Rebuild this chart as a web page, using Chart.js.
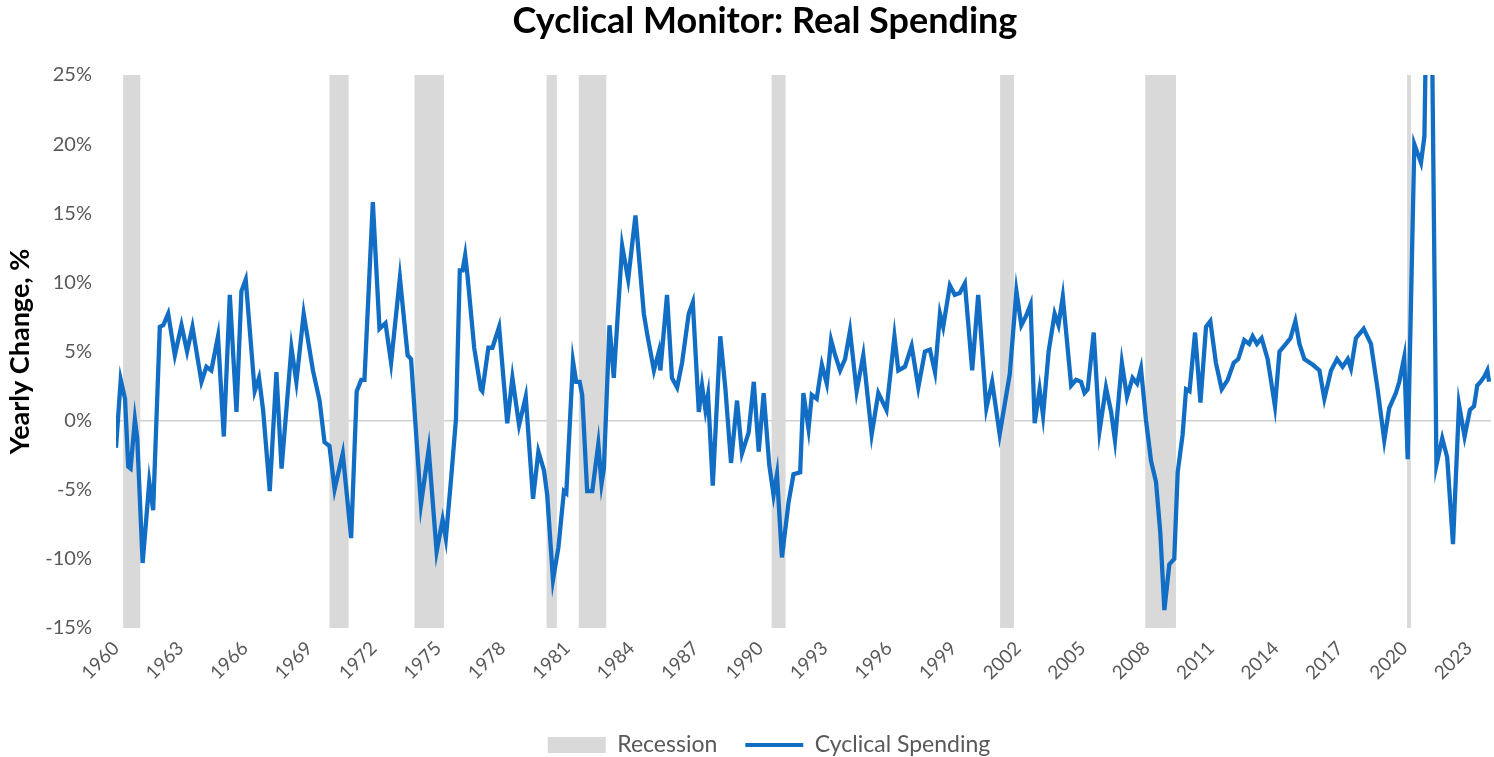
<!DOCTYPE html>
<html><head><meta charset="utf-8">
<script src="https://cdn.jsdelivr.net/npm/chart.js@4.4.1/dist/chart.umd.min.js"></script>
<style>html,body{margin:0;padding:0;background:#fff;}</style>
</head><body>
<canvas id="c" width="1494" height="757"></canvas>
<script>
const TITLE = 'Cyclical Monitor: Real Spending';
const Y_TITLE = 'Yearly Change, %';
const SERIES_LABEL = 'Cyclical Spending';
const RECESSION_LABEL = 'Recession';
const X_TICKS = [1960,1963,1966,1969,1972,1975,1978,1981,1984,1987,1990,1993,1996,1999,2002,2005,2008,2011,2014,2017,2020,2023];
const Y_TICKS = [-15,-10,-5,0,5,10,15,20,25];
const REC_START = [1960.33,1969.94,1973.9,1980.05,1981.55,1990.53,2001.17,2007.93,2020.12];
const REC_END   = [1961.13,1970.83,1975.27,1980.53,1982.83,1991.18,2001.82,2009.36,2020.3];

const DATES = [
1960.00,1960.22,1960.42,1960.57,1960.68,1960.88,1960.99,1961.24,1961.55,1961.73,
1962.04,1962.20,1962.43,1962.74,1963.05,1963.31,1963.56,1963.98,1964.21,1964.44,
1964.75,1965.02,1965.30,1965.61,1965.84,1966.04,1966.46,1966.66,1966.85,1967.16,
1967.47,1967.71,1968.17,1968.40,1968.74,1969.17,1969.48,1969.71,1969.94,1970.18,
1970.56,1970.95,1971.21,1971.42,1971.57,1971.96,1972.27,1972.55,1972.81,1973.22,
1973.58,1973.74,1974.20,1974.56,1974.93,1975.21,1975.36,1975.60,1975.83,1976.01,
1976.14,1976.26,1976.37,1976.68,1976.99,1977.06,1977.34,1977.53,1977.84,1978.22,
1978.46,1978.77,1979.08,1979.42,1979.67,1979.93,1980.08,1980.35,1980.60,1980.86,
1980.97,1981.28,1981.43,1981.59,1981.71,1981.94,1982.18,1982.46,1982.61,1982.72,
1982.98,1983.18,1983.57,1983.85,1984.19,1984.58,1984.74,1985.05,1985.28,1985.35,
1985.66,1985.89,1986.13,1986.36,1986.67,1986.86,1987.14,1987.29,1987.45,1987.57,
1987.79,1988.14,1988.38,1988.64,1988.92,1989.15,1989.46,1989.70,1989.93,1990.16,
1990.42,1990.62,1990.78,1991.01,1991.32,1991.55,1991.86,1992.01,1992.25,1992.40,
1992.63,1992.87,1993.10,1993.30,1993.49,1993.72,1993.95,1994.18,1994.49,1994.80,
1995.19,1995.50,1995.88,1996.25,1996.43,1996.74,1997.05,1997.36,1997.67,1997.90,
1998.14,1998.37,1998.52,1998.83,1999.06,1999.29,1999.53,1999.87,2000.15,2000.53,
2000.80,2001.15,2001.62,2001.93,2002.16,2002.39,2002.59,2002.78,2003.01,2003.17,
2003.43,2003.71,2003.89,2004.09,2004.48,2004.71,2004.94,2005.10,2005.25,2005.53,
2005.80,2006.10,2006.34,2006.52,2006.84,2007.08,2007.34,2007.55,2007.73,2007.96,
2008.20,2008.43,2008.63,2008.82,2009.05,2009.28,2009.44,2009.67,2009.83,2009.99,
2010.25,2010.50,2010.76,2010.96,2011.22,2011.49,2011.77,2012.05,2012.26,2012.54,
2012.77,2012.93,2013.13,2013.35,2013.63,2013.97,2014.18,2014.48,2014.69,2014.92,
2015.11,2015.34,2015.73,2016.04,2016.27,2016.58,2016.86,2017.12,2017.36,2017.51,
2017.74,2018.10,2018.44,2018.75,2019.06,2019.29,2019.60,2019.76,2019.99,2020.15,
2020.46,2020.77,2020.93,2021.17,2021.49,2021.76,2021.99,2022.26,2022.54,2022.80,
2023.05,2023.24,2023.39,2023.55,2023.73,2023.86,2023.94
];
const VALUES = [
-1.97,2.95,1.58,-3.33,-3.47,0.08,-1.28,-10.3,-4.43,-6.48,
6.78,6.9,7.73,4.73,6.9,5.0,6.78,2.81,3.9,3.63,
6.1,-1.15,9.1,0.63,9.37,10.2,2.13,3.09,0.77,-5.1,
3.5,-3.47,5.27,2.81,7.73,3.63,1.45,-1.56,-1.83,-4.97,
-2.38,-8.5,2.13,2.95,2.95,15.8,6.64,7.05,4.18,10.33,
4.73,4.45,-6.07,-2.1,-9.48,-7.16,-8.52,-4.29,0.08,10.87,
10.87,11.97,10.46,5.27,2.27,2.13,5.27,5.27,6.78,-0.19,
3.09,-0.33,1.72,-5.66,-2.24,-3.6,-5.38,-11.5,-9.2,-5.1,
-5.25,4.3,2.8,2.8,1.86,-5.1,-5.1,-1.7,-4.56,-3.47,
6.9,3.09,12.65,10.2,14.84,7.73,6.23,3.63,5.0,3.63,
9.1,3.09,2.4,4.18,7.73,8.55,0.63,2.54,0.77,1.86,
-4.7,6.1,2.27,-3.06,1.45,-2.38,-0.87,2.81,-2.24,1.99,
-3.2,-5.38,-3.88,-9.9,-5.9,-3.88,-3.74,1.99,-0.6,1.86,
1.58,4.04,2.68,5.82,4.73,3.63,4.45,6.5,2.13,4.73,
-1.0,1.99,0.77,6.1,3.63,3.9,5.4,2.4,5.0,5.14,
3.5,7.73,6.78,9.78,9.1,9.23,9.92,3.63,9.1,0.9,
2.81,-1.0,3.36,9.37,6.9,7.6,8.4,-0.19,2.27,0.36,
5.0,7.73,6.9,8.96,2.54,2.95,2.81,2.0,2.27,6.37,
-0.74,2.4,0.63,-1.42,4.18,1.72,3.09,2.68,3.77,0.08,
-2.92,-4.43,-8.1,-13.7,-10.4,-10.0,-3.74,-1.0,2.27,2.13,
6.37,1.31,6.78,7.19,4.18,2.27,2.95,4.18,4.45,5.82,
5.55,6.1,5.55,5.96,4.45,1.04,5.0,5.55,5.96,7.19,
5.55,4.45,4.04,3.63,1.58,3.63,4.45,3.9,4.45,3.77,
5.96,6.64,5.55,2.27,-1.42,0.9,1.99,2.81,4.59,-2.79,
20.0,18.66,20.57,45.0,-3.2,-1.28,-2.65,-8.93,1.17,-1.15,
0.77,1.04,2.54,2.81,3.22,3.63,2.81
];

const BLUE = '#126ec4';
const GREY = '#d9d9d9';
const FONT = 'Lato, "Liberation Sans", sans-serif';
const PLOT_BOTTOM = 628;
const LEGEND_CENTER_Y = 745;
const LEGEND_SHIFT_X = 22;
const TITLE_SHIFT_X = 18;

const recessionPlugin = {
  id: 'recessions',
  beforeDatasetsDraw(chart) {
    const {ctx, chartArea, scales} = chart;
    ctx.save();
    ctx.fillStyle = GREY;
    for (let i = 0; i < REC_START.length; i++) {
      const x0 = scales.x.getPixelForValue(REC_START[i]);
      const x1 = scales.x.getPixelForValue(REC_END[i]);
      ctx.fillRect(x0, chartArea.top, x1 - x0, chartArea.bottom - chartArea.top);
    }
    ctx.restore();
  },
  afterLayout(chart) {
    const lg = chart.legend;
    if (lg) {
      const pad = lg.options.labels.padding;
      const ih = lg.options.labels.font.size;
      const top = LEGEND_CENTER_Y - pad - ih / 2;
      const h = lg.bottom - lg.top;
      lg.top = top; lg.bottom = top + h;
      lg.left += LEGEND_SHIFT_X; lg.right += LEGEND_SHIFT_X;
    }
    const tt = chart.titleBlock;
    if (tt) { tt.left += TITLE_SHIFT_X; tt.right += TITLE_SHIFT_X; }
  }
};

new Chart(document.getElementById('c'), {
  type: 'line',
  data: {
    datasets: [{
      label: SERIES_LABEL,
      data: DATES.map((d, i) => ({x: d, y: VALUES[i]})),
      borderColor: BLUE,
      backgroundColor: BLUE,
      borderWidth: 4.3,
      pointRadius: 0,
      tension: 0,
      fill: false
    }]
  },
  options: {
    responsive: false,
    animation: false,
    devicePixelRatio: 1,
    layout: {padding: 0},
    plugins: {
      title: {
        display: true, text: TITLE, color: '#000',
        font: {family: FONT, size: 36, weight: 'bold', lineHeight: 1.2},
        padding: {top: 0, bottom: 31.8}
      },
      legend: {
        display: true, position: 'bottom',
        labels: {
          font: {family: FONT, size: 23}, color: '#595959',
          usePointStyle: true, pointStyleWidth: 58, boxHeight: 16, padding: 28,
          generateLabels: () => [
            {text: RECESSION_LABEL, fillStyle: GREY, strokeStyle: GREY, lineWidth: 0, pointStyle: 'rect', hidden: false, datasetIndex: 0, fontColor: '#595959'},
            {text: SERIES_LABEL, fillStyle: BLUE, strokeStyle: BLUE, lineWidth: 4, pointStyle: 'line', hidden: false, datasetIndex: 0, fontColor: '#595959'}
          ]
        }
      },
      tooltip: {enabled: false}
    },
    scales: {
      x: {
        type: 'linear', min: 1960, max: 2024.03,
        afterBuildTicks: s => { s.ticks = X_TICKS.map(v => ({value: v})); },
        afterFit: s => { s.height = s.chart.height - PLOT_BOTTOM - (s.chart.legend ? s.chart.legend.height : 0); },
        grid: {display: false, drawTicks: false},
        border: {display: false},
        ticks: {
          autoSkip: false, minRotation: 45, maxRotation: 45, padding: 9,
          color: '#595959', font: {family: FONT, size: 19},
          callback: v => String(v)
        }
      },
      y: {
        type: 'linear', min: -15, max: 25,
        afterBuildTicks: s => { s.ticks = Y_TICKS.map(v => ({value: v})); },
        afterFit: s => { s.width = 116; },
        grid: {
          drawTicks: false,
          color: c => (c.tick && c.tick.value === 0) ? '#d0d0d0' : 'rgba(0,0,0,0)',
          lineWidth: 1.5
        },
        border: {display: false},
        ticks: {
          padding: 24, color: '#595959', font: {family: FONT, size: 20},
          callback: v => v + '%'
        },
        title: {
          display: true, text: Y_TITLE, color: '#000',
          font: {family: FONT, size: 27, weight: 'bold', lineHeight: 1.2},
          padding: {top: 4, bottom: 0}
        }
      }
    }
  },
  plugins: [recessionPlugin]
});
</script>
</body></html>
